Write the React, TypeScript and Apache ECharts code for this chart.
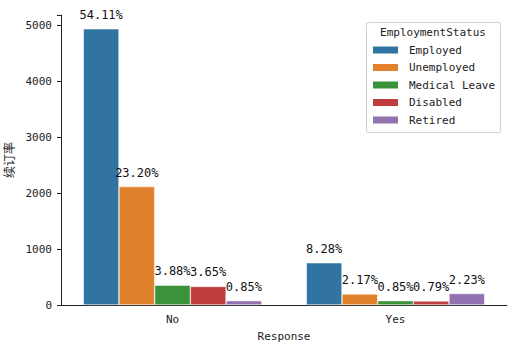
import React, { useEffect, useRef } from "react";
import * as echarts from "echarts";

const categories = ["No", "Yes"];
const statuses = ["Employed", "Unemployed", "Medical Leave", "Disabled", "Retired"];
const counts = [
  [4942, 756],
  [2119, 198],
  [354, 78],
  [333, 72],
  [78, 204],
];
const percents = [
  ["54.11%", "8.28%"],
  ["23.20%", "2.17%"],
  ["3.88%", "0.85%"],
  ["3.65%", "0.79%"],
  ["0.85%", "2.23%"],
];
const colors = ["#3274a1", "#e1812c", "#3a923a", "#c03d3e", "#9372b2"];
const yTicks = [0, 1000, 2000, 3000, 4000, 5000];

const MONO = "'DejaVu Sans Mono', monospace";

export default function App() {
  const ref = useRef<HTMLDivElement>(null);
  useEffect(() => {
    const chart = echarts.init(ref.current!, null, { renderer: "svg" });
    chart.setOption({
      animation: false,
      color: colors,
      grid: { left: 61, right: 3, top: 15, bottom: 39, containLabel: false, outerBoundsMode: "none" },
      xAxis: {
        type: "category",
        data: categories,
        name: "Response",
        nameLocation: "middle",
        nameGap: 26,
        nameTextStyle: { fontFamily: MONO, fontSize: 11, color: "#222" },
        axisLine: { lineStyle: { color: "#222", width: 1 } },
        axisTick: { alignWithLabel: true, length: 4, lineStyle: { color: "#222" } },
        axisLabel: { fontFamily: MONO, fontSize: 11, color: "#222", margin: 9 },
      },
      yAxis: {
        type: "value",
        min: 0,
        max: 5190,
        interval: 1000,
        name: "续订率",
        nameLocation: "middle",
        nameGap: 38,
        nameTextStyle: { fontFamily: "'Noto Sans CJK SC', sans-serif", fontSize: 12, color: "#222" },
        axisLine: { show: true, lineStyle: { color: "#222", width: 1 } },
        axisTick: { show: true, length: 4, lineStyle: { color: "#222" } },
        axisLabel: {
          fontFamily: MONO,
          fontSize: 11,
          color: "#222",
          margin: 9,
          formatter: (v: number) => (yTicks.includes(v) ? String(v) : ""),
        },
        splitLine: { show: false },
      },
      legend: {
        orient: "vertical",
        left: 371,
        top: 44,
        padding: 0,
        itemWidth: 27,
        itemHeight: 9,
        itemGap: 5.5,
        icon: "rect",
        data: statuses,
        textStyle: {
          fontFamily: MONO,
          fontSize: 11,
          lineHeight: 12,
          color: "#222",
          padding: [0, 0, 0, 5],
        },
      },
      graphic: [
        {
          type: "rect",
          shape: { x: 366.5, y: 22.5, width: 134, height: 110, r: 2 },
          style: { fill: "rgba(255,255,255,0.8)", stroke: "#d0d0d0", lineWidth: 1 },
          z: -1,
        },
        {
          type: "text",
          x: 433,
          y: 32.5,
          style: {
            text: "EmploymentStatus",
            fontFamily: MONO,
            fontSize: 11,
            fill: "#222",
            align: "center",
            verticalAlign: "middle",
          },
        },
      ],
      series: statuses.map((s, i) => ({
        name: s,
        type: "bar",
        data: counts[i],
        barGap: "0%",
        barCategoryGap: "20%",
        itemStyle: { color: colors[i], borderColor: "#ffffff", borderWidth: 0.5 },
        label: {
          show: true,
          position: "top",
          distance: 8,
          fontFamily: MONO,
          fontSize: 12,
          color: "#111",
          formatter: (p: any) => percents[i][p.dataIndex],
        },
      })),
    });
    return () => chart.dispose();
  }, []);
  return (
    <div
      ref={ref}
      style={{ position: "fixed", left: 0, top: 0, width: 510, height: 344, background: "#fff" }}
    />
  );
}
